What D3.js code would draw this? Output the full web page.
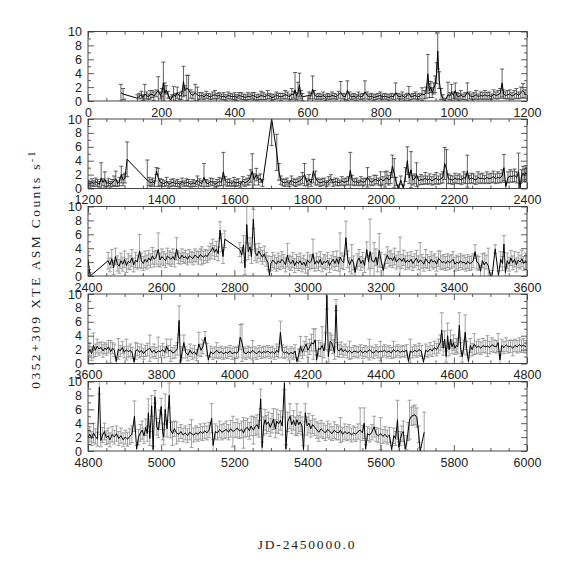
<!DOCTYPE html>
<html>
<head>
<meta charset="utf-8">
<script src="https://cdn.jsdelivr.net/npm/d3@7"></script>
<style>
  body { margin: 0; background: #fff; }
  svg { display: block; }
  .tick text { font-family: "Liberation Sans", sans-serif; font-size: 12.5px; fill: #222; }
  .tick line { stroke: #333; stroke-width: 0.8; }
  .title { font-family: "Liberation Serif", serif; font-size: 13.5px; fill: #222; }
</style>
</head>
<body>
<svg width="574" height="574"></svg>
<script>
// light curve, panel 1 (JD-2450000 = 0..1200)
const p1Days = [
  90,96,135,140,146,150,155,160,165,170,
  175,180,186,192,198,202,206,210,214,219,
  224,229,234,239,244,250,256,261,265,270,
  275,281,287,293,299,305,311,317,323,329,
  335,341,347,353,359,365,371,377,383,389,
  395,401,407,413,419,425,431,437,443,449,
  455,461,467,473,479,485,491,497,503,509,
  515,521,527,533,539,545,551,557,562,566,
  570,574,578,582,586,604,609,614,619,625,
  631,637,643,649,655,661,667,673,679,685,
  691,697,703,709,715,721,727,733,739,745,
  751,757,763,769,775,781,787,793,799,805,
  811,817,823,829,835,841,847,853,859,865,
  871,877,883,889,895,901,907,913,919,924,
  929,933,937,941,945,949,953,956,960,965,
  970,976,984,989,994,999,1004,1009,1014,1019,
  1025,1031,1037,1043,1049,1055,1061,1067,1073,1079,
  1085,1091,1097,1103,1109,1115,1121,1127,1132,1136,
  1141,1147,1153,1159,1165,1171,1177,1183,1189,1195
];
const p1Rates = [
  1.2,1.0,0.4,0.7,0.9,0.5,1.0,0.8,0.6,0.9,
  1.0,0.7,1.1,1.5,0.8,1.2,2.6,1.1,1.6,0.9,
  0.2,0.4,1.0,0.6,1.2,0.7,0.8,2.8,1.5,1.9,
  1.6,1.0,0.8,1.2,0.9,0.7,0.8,0.6,0.9,0.7,
  0.6,0.8,0.9,0.7,0.8,0.6,0.7,0.5,0.8,0.7,
  0.6,0.7,0.5,0.8,0.7,0.6,0.5,0.7,0.6,0.8,
  0.7,0.5,0.6,0.8,0.7,0.6,0.9,0.7,0.5,0.6,
  0.8,0.7,0.6,0.7,0.9,0.8,0.6,1.0,0.9,1.6,
  0.7,1.2,2.3,0.9,0.6,0.8,0.7,1.7,0.9,0.6,
  0.7,0.6,0.8,0.5,0.7,0.6,0.8,0.7,0.6,0.9,
  1.2,0.7,0.6,1.5,0.8,0.6,0.7,0.5,0.8,0.6,
  0.7,1.3,0.8,0.6,0.7,0.5,0.6,0.7,0.8,0.6,
  0.7,0.6,0.5,0.7,0.6,1.2,0.7,0.6,0.8,0.5,
  0.7,1.1,0.6,0.7,0.8,0.6,0.7,1.0,0.9,1.2,
  3.9,1.5,2.0,1.2,1.8,2.4,4.0,7.2,3.0,1.0,
  0.4,0.0,0.9,0.7,1.2,0.8,1.5,0.7,0.6,0.9,
  0.6,0.7,1.3,0.8,0.6,0.7,0.9,0.6,0.8,0.7,
  0.9,0.7,0.8,0.6,1.0,0.8,0.9,1.1,2.6,1.0,
  0.8,0.9,1.0,0.7,0.9,1.1,0.8,1.2,1.5,1.0
];
const p1Errs = [
  1.2,0.8,0.5,0.4,0.5,0.4,1.4,0.5,0.4,0.6,
  0.5,0.6,0.5,2.0,0.5,0.6,3.0,1.5,0.6,0.5,
  0.4,0.5,1.1,0.5,0.8,0.5,0.6,2.2,0.7,1.8,
  2.1,0.6,0.5,1.2,1.1,0.5,0.4,0.4,0.5,0.4,
  0.4,0.5,0.6,0.4,0.4,0.4,0.5,0.4,0.5,0.4,
  0.4,0.5,0.4,0.4,0.5,0.4,0.4,0.5,0.4,0.4,
  0.5,0.4,0.4,0.6,0.5,0.4,0.6,0.4,0.4,0.4,
  0.5,0.4,0.5,0.4,0.6,0.5,0.4,0.8,0.5,2.5,
  0.5,1.5,1.7,0.6,0.5,0.5,0.4,1.9,0.6,0.4,
  0.4,0.4,0.5,0.4,0.4,0.4,0.5,0.4,0.4,0.5,
  1.6,0.4,0.4,1.4,0.5,0.4,0.4,0.4,0.5,0.4,
  0.4,1.6,0.5,0.4,0.4,0.4,0.4,0.4,0.5,0.4,
  0.4,0.4,0.4,0.4,0.4,1.4,0.4,0.4,0.5,0.4,
  0.4,1.0,0.4,0.4,0.5,0.4,0.4,0.9,0.6,0.8,
  2.8,1.0,0.8,0.7,0.8,1.2,1.5,2.6,1.2,0.8,
  0.5,0.4,1.8,0.5,1.2,0.5,1.1,0.5,0.5,0.6,
  0.4,0.5,1.3,0.5,0.4,0.5,0.6,0.4,0.5,0.5,
  0.6,0.5,0.5,0.4,0.6,0.5,0.6,0.7,2.0,0.6,
  0.5,0.6,0.6,0.5,0.6,0.7,0.5,0.8,1.0,0.6
];

// panel 2 (1200..2400)
const p2Days = [
  1201,1206,1211,1216,1221,1226,1231,1236,1241,1246,
  1251,1256,1261,1266,1271,1276,1281,1286,1291,1296,
  1301,1307,1362,1367,1372,1377,1382,1387,1392,1397,
  1403,1409,1415,1421,1427,1433,1439,1445,1451,1457,
  1463,1469,1475,1481,1487,1493,1499,1505,1511,1517,
  1523,1529,1535,1541,1547,1553,1559,1565,1570,1575,
  1581,1587,1593,1599,1605,1611,1617,1623,1629,1635,
  1640,1645,1649,1654,1660,1666,1671,1677,1702,1716,
  1722,1727,1732,1738,1744,1750,1756,1762,1768,1774,
  1780,1786,1792,1798,1804,1810,1816,1822,1828,1834,
  1840,1846,1852,1858,1864,1870,1876,1882,1888,1894,
  1900,1906,1912,1917,1922,1928,1934,1940,1946,1952,
  1958,1964,1970,1976,1982,1988,1994,2000,2006,2012,
  2017,2022,2027,2032,2037,2042,2048,2055,2062,2068,
  2073,2078,2083,2088,2093,2098,2104,2110,2116,2122,
  2128,2134,2140,2146,2152,2158,2164,2170,2175,2180,
  2185,2191,2197,2203,2209,2215,2221,2227,2232,2237,
  2242,2248,2254,2260,2266,2272,2278,2284,2290,2296,
  2302,2308,2314,2320,2326,2332,2337,2342,2348,2354,
  2360,2366,2372,2377,2381,2385,2389,2393,2397,2400
];
const p2Rates = [
  0.8,0.6,0.9,0.7,1.0,0.8,0.6,1.5,0.9,1.3,
  0.7,0.9,0.6,0.8,1.1,1.4,0.7,1.0,2.0,1.2,
  1.5,4.2,1.2,1.0,0.8,1.0,0.7,2.5,1.6,0.9,
  0.8,0.7,1.0,0.6,0.8,0.9,0.7,0.8,0.6,1.0,
  0.7,0.9,0.8,0.6,0.8,0.7,1.2,0.9,0.7,1.6,
  0.8,0.7,1.0,0.9,0.6,0.8,1.0,0.9,2.4,1.1,
  0.8,0.9,0.7,1.0,0.8,0.9,0.6,1.1,0.8,1.0,
  1.2,1.8,2.5,1.3,2.0,1.2,1.5,0.8,10.0,5.2,
  2.4,1.2,0.9,0.8,1.0,0.7,1.2,0.9,0.8,1.0,
  1.1,1.5,2.0,0.9,1.3,0.8,2.5,1.5,1.0,0.8,
  0.9,1.0,0.7,1.1,1.4,0.8,1.0,0.9,0.8,1.1,
  0.9,1.0,1.1,2.6,1.2,0.9,1.0,0.8,1.1,0.9,
  1.0,1.6,1.1,0.9,1.2,1.3,1.0,1.4,1.1,1.3,
  1.6,1.2,1.5,3.2,2.2,1.0,0.0,1.2,0.0,2.0,
  4.0,1.5,2.7,1.2,1.4,2.0,1.1,1.3,1.2,1.5,
  1.2,1.4,1.1,1.3,1.5,1.2,1.4,1.6,3.6,2.8,
  1.4,1.3,1.2,1.5,1.3,1.4,1.2,1.6,1.4,2.5,
  1.3,1.5,1.4,1.2,1.6,1.4,1.5,1.3,1.6,1.4,
  1.5,1.7,1.4,1.6,1.5,1.8,3.0,0.3,1.6,1.8,
  1.7,1.9,1.6,2.4,0.1,1.8,2.2,1.9,2.3,2.0
];
const p2Errs = [
  0.4,0.4,0.5,0.4,0.5,0.5,0.4,2.2,0.5,1.1,
  0.4,0.5,0.4,0.5,0.7,1.1,0.4,0.6,1.2,0.8,
  0.7,2.5,2.9,0.6,0.5,0.5,0.4,0.5,1.3,0.5,
  0.5,0.4,0.6,0.4,0.5,0.5,0.4,0.5,0.4,0.5,
  0.4,0.5,0.5,0.4,0.5,0.4,0.6,0.5,0.4,2.0,
  0.5,0.4,0.5,0.5,0.4,0.5,0.6,0.5,2.8,0.6,
  0.5,0.5,0.4,0.6,0.5,0.5,0.4,0.6,0.5,0.5,
  0.7,0.9,2.5,0.8,0.9,0.7,0.6,0.5,3.8,2.6,
  1.2,0.6,0.5,0.5,0.5,0.4,0.6,0.5,0.5,0.5,
  0.6,0.8,1.6,0.5,0.7,0.5,1.7,1.0,0.5,0.5,
  0.5,0.5,0.4,0.6,0.6,0.5,0.5,0.5,0.4,0.6,
  0.5,0.5,0.6,2.6,0.7,0.5,0.5,0.4,0.6,0.5,
  0.5,1.4,0.6,0.5,0.7,0.6,0.5,1.0,0.6,1.1,
  0.9,0.7,0.8,1.6,2.1,0.6,0.5,0.6,0.5,1.0,
  2.0,0.8,2.6,0.7,0.7,1.7,0.6,0.7,0.6,0.8,
  0.6,0.7,0.6,0.7,0.8,0.6,0.7,0.8,2.3,2.8,
  0.7,0.6,0.6,0.7,0.6,0.7,0.6,0.8,0.7,2.3,
  0.6,0.7,0.7,0.6,0.8,0.7,0.7,0.6,0.8,0.7,
  0.7,0.8,0.7,0.8,0.7,0.9,1.9,0.6,0.8,0.9,
  0.8,0.9,0.8,2.7,0.6,0.9,1.0,0.9,1.0,0.9
];

// panel 3 (2400..3600)
const p3Days = [
  2400,2406,2455,2460,2465,2470,2475,2480,2485,2490,
  2495,2500,2505,2510,2515,2520,2525,2530,2535,2541,
  2546,2551,2556,2561,2566,2571,2576,2581,2586,2592,
  2597,2602,2607,2612,2617,2622,2627,2632,2637,2642,
  2647,2652,2657,2662,2667,2672,2677,2682,2687,2692,
  2697,2702,2707,2711,2716,2721,2726,2731,2736,2741,
  2746,2751,2756,2761,2765,2769,2774,2815,2820,2825,
  2829,2834,2838,2843,2847,2852,2857,2862,2867,2872,
  2877,2882,2887,2892,2896,2900,2905,2910,2915,2920,
  2925,2930,2935,2940,2945,2950,2955,2960,2965,2970,
  2975,2980,2985,2990,2995,3000,3005,3010,3015,3020,
  3025,3030,3035,3040,3045,3050,3055,3060,3065,3070,
  3075,3080,3085,3089,3094,3099,3105,3110,3115,3121,
  3126,3130,3136,3141,3146,3151,3156,3162,3167,3171,
  3176,3182,3187,3191,3196,3201,3207,3212,3218,3223,
  3228,3233,3238,3243,3248,3253,3258,3263,3268,3273,
  3278,3283,3288,3293,3298,3303,3308,3313,3318,3323,
  3328,3333,3338,3343,3348,3353,3358,3363,3368,3373,
  3378,3383,3388,3393,3398,3403,3408,3413,3418,3423,
  3428,3433,3438,3443,3448,3453,3458,3463,3468,3473,
  3478,3483,3488,3494,3500,3505,3513,3522,3528,3533,
  3537,3541,3546,3551,3556,3561,3566,3571,3576,3581,
  3586,3591,3596,3600
];
const p3Rates = [
  2.4,0.0,2.2,1.6,2.5,1.2,2.8,1.8,1.4,2.2,
  1.7,2.4,1.5,2.1,1.9,2.6,1.6,2.3,2.0,3.6,
  2.2,1.8,2.4,2.0,2.6,2.2,2.9,2.4,2.7,3.8,
  2.3,2.8,2.5,2.2,2.9,2.6,2.4,2.8,2.3,3.9,
  2.7,2.5,3.0,2.6,2.8,2.4,2.9,2.7,2.5,3.0,
  2.8,2.6,3.1,2.9,2.7,3.0,2.8,3.3,3.6,4.1,
  3.4,3.9,3.2,6.6,4.8,2.8,5.3,3.8,3.0,4.5,
  1.2,7.4,3.5,4.2,2.8,8.2,3.4,2.9,3.6,3.1,
  2.7,3.2,2.4,1.9,0.1,1.8,2.3,2.0,1.7,2.2,
  1.9,2.4,2.1,1.6,3.0,2.0,1.8,2.3,1.5,2.1,
  1.8,2.2,1.6,2.0,1.4,2.3,1.9,2.1,3.2,1.7,
  2.2,1.8,2.4,1.6,2.1,1.9,2.3,1.5,2.0,2.4,
  1.8,2.5,1.7,2.7,2.2,1.9,5.5,2.4,1.6,2.4,
  1.9,0.5,2.1,2.6,1.8,2.3,1.5,3.8,2.0,3.5,
  2.2,2.0,2.7,1.6,3.7,2.3,0.8,2.1,3.0,2.4,
  2.6,2.2,2.8,2.0,2.4,2.5,2.1,2.6,1.9,2.3,
  2.0,2.4,1.8,2.2,2.6,1.9,2.3,2.1,1.7,2.5,
  2.1,1.8,2.4,2.0,2.2,1.7,2.5,2.3,1.9,2.1,
  1.8,2.2,1.9,2.1,2.4,1.7,2.0,1.8,2.2,1.9,
  2.0,1.7,2.1,1.8,1.9,2.2,3.5,2.0,1.8,0.7,
  2.2,1.6,2.0,1.5,0.0,0.2,3.9,0.1,2.4,1.8,
  4.6,0.5,2.2,1.7,2.6,1.9,2.4,1.6,2.3,2.0,
  2.5,1.8,2.2,1.9
];
const p3Errs = [
  1.1,0.5,1.2,1.0,1.3,1.0,1.2,1.1,1.0,1.1,
  1.0,1.2,1.0,1.1,1.0,1.2,1.0,1.1,1.0,2.4,
  1.1,1.0,1.2,1.0,1.1,1.0,1.2,1.1,1.0,2.4,
  1.0,1.1,1.0,1.0,1.1,1.0,1.0,1.1,1.0,1.6,
  0.9,0.8,0.9,0.8,0.9,0.8,0.9,0.8,0.9,0.9,
  0.8,0.9,0.8,1.3,0.9,0.8,0.9,1.0,1.1,1.2,
  1.0,1.1,1.0,1.2,1.3,1.0,1.2,1.0,1.1,1.3,
  1.0,2.6,1.1,1.3,1.0,1.4,1.2,1.0,1.1,1.0,
  1.0,1.1,1.0,1.0,0.6,1.0,1.1,1.0,1.0,1.1,
  1.0,1.1,1.0,1.0,1.7,1.0,1.0,1.1,1.0,1.0,
  1.0,1.1,1.0,1.0,1.0,1.1,1.0,1.0,2.1,1.0,
  1.1,1.0,1.1,1.0,1.0,1.0,1.1,1.0,1.0,1.1,
  1.0,1.1,1.0,3.5,1.1,1.0,2.4,1.2,1.0,2.1,
  1.0,0.8,1.1,1.2,1.0,1.1,1.0,1.1,1.0,4.7,
  1.1,2.8,1.2,1.0,2.4,1.1,0.9,1.0,1.2,1.1,
  1.1,1.0,1.2,1.0,1.1,3.1,1.0,1.1,1.0,1.1,
  1.0,1.1,1.0,1.0,1.1,1.0,2.5,1.0,1.0,1.3,
  1.0,1.0,1.1,1.0,1.0,1.0,1.1,1.3,1.0,1.0,
  1.0,1.0,1.0,1.0,1.1,1.0,1.0,1.0,1.0,1.0,
  1.0,1.0,1.0,1.0,1.0,1.0,1.0,1.0,1.0,0.8,
  1.0,1.7,1.0,2.5,0.5,0.6,0.6,0.6,1.1,1.0,
  1.2,0.8,1.1,1.0,1.1,1.0,1.1,1.0,1.1,1.0,
  1.2,1.0,1.1,1.0
];

// panel 4 (3600..4800)
const p4Days = [
  3600,3605,3610,3615,3620,3625,3630,3636,3641,3646,
  3651,3656,3662,3667,3672,3677,3683,3688,3694,3699,
  3705,3710,3716,3721,3726,3730,3735,3741,3746,3752,
  3757,3763,3769,3775,3781,3786,3792,3798,3804,3810,
  3815,3820,3826,3832,3838,3844,3849,3853,3857,3862,
  3867,3873,3879,3885,3891,3897,3903,3909,3914,3920,
  3925,3929,3935,3941,3947,3952,3958,3964,3970,3976,
  3982,3988,3994,4000,4006,4011,4016,4021,4026,4032,
  4038,4044,4050,4056,4062,4068,4074,4080,4086,4092,
  4098,4104,4110,4116,4121,4126,4131,4137,4143,4149,
  4155,4161,4166,4171,4176,4181,4186,4191,4196,4201,
  4206,4211,4216,4221,4225,4230,4235,4240,4245,4249,
  4253,4257,4262,4266,4270,4274,4278,4282,4287,4292,
  4297,4303,4309,4315,4321,4327,4333,4339,4345,4351,
  4357,4363,4369,4375,4381,4387,4393,4399,4405,4411,
  4417,4423,4429,4435,4441,4447,4453,4459,4465,4471,
  4476,4481,4487,4493,4499,4505,4511,4517,4523,4529,
  4535,4541,4547,4553,4558,4563,4567,4571,4575,4579,
  4583,4587,4591,4595,4599,4603,4607,4611,4615,4619,
  4623,4627,4631,4635,4640,4645,4650,4656,4662,4668,
  4674,4680,4686,4692,4698,4704,4710,4716,4721,4726,
  4731,4737,4743,4749,4755,4761,4767,4773,4779,4785,
  4791,4797
];
const p4Rates = [
  1.5,2.0,1.4,2.6,1.9,2.5,2.1,2.3,1.8,2.2,
  2.0,2.4,1.7,2.2,1.9,0.3,2.1,1.8,2.3,1.6,
  2.0,1.7,1.9,1.5,0.2,1.8,2.0,1.6,1.9,1.4,
  1.8,2.0,2.2,1.6,1.9,1.5,1.8,1.7,2.0,1.6,
  2.5,1.8,1.9,1.5,1.7,2.1,6.2,0.0,1.6,3.0,
  1.6,1.2,1.9,1.4,1.7,1.2,2.8,1.9,2.4,3.8,
  2.0,0.5,1.7,1.4,1.6,1.9,1.5,1.7,1.4,1.6,
  1.5,1.8,1.4,1.6,1.5,1.7,3.8,3.0,1.6,1.4,
  1.7,1.5,1.9,1.6,1.4,1.8,1.5,1.7,1.6,1.8,
  1.5,1.7,1.4,1.9,1.6,4.5,1.8,1.5,1.7,1.3,
  1.6,1.4,1.8,0.3,1.2,2.5,1.6,2.2,2.8,1.9,
  2.4,3.0,2.8,3.4,0.5,2.2,2.0,2.6,1.8,3.2,
  9.8,1.0,3.2,3.0,2.4,1.5,8.4,2.0,1.8,2.2,
  1.7,2.0,1.6,1.9,1.5,1.8,1.7,1.6,1.9,1.5,
  1.8,1.6,2.0,1.7,1.5,1.9,1.6,1.8,1.7,1.9,
  1.6,1.8,1.5,2.0,1.7,1.9,1.6,1.8,1.7,1.9,
  0.3,1.8,1.6,1.9,1.7,2.0,1.8,0.2,1.9,1.7,
  2.1,1.8,2.3,2.0,2.5,3.0,4.8,2.2,3.5,1.0,
  4.0,2.0,3.5,2.4,3.0,2.2,2.6,2.4,5.5,2.0,
  1.0,2.4,4.5,2.2,0.3,2.6,2.0,2.8,2.3,2.5,
  2.2,2.6,2.4,2.5,2.3,2.7,2.5,2.4,3.0,0.5,
  2.6,2.3,2.7,2.4,2.5,2.2,2.6,2.4,2.7,2.5,
  2.6,2.4
];
const p4Errs = [
  1.0,0.9,1.0,1.8,0.9,1.0,0.9,0.8,0.9,0.8,
  0.8,0.9,1.6,0.8,0.9,0.5,1.5,0.8,0.9,0.8,
  1.5,0.8,0.9,0.8,0.5,1.2,0.9,0.8,0.9,0.8,
  0.8,0.9,1.9,0.8,0.9,0.8,2.0,0.8,0.9,0.8,
  1.0,0.8,1.6,0.8,0.9,0.9,2.1,0.5,0.8,1.1,
  0.8,0.8,0.9,0.8,0.9,0.8,1.7,0.9,1.0,0.8,
  0.9,0.6,0.8,0.8,0.8,1.1,0.8,0.8,0.8,0.8,
  0.8,0.8,0.8,0.8,0.8,0.8,1.8,2.7,0.8,0.8,
  0.8,0.8,1.4,0.8,0.8,0.8,0.8,0.8,0.8,0.8,
  0.8,0.8,0.8,0.9,0.8,1.6,0.9,0.8,0.8,0.8,
  0.8,0.8,0.9,0.5,0.9,1.4,0.9,1.0,1.1,1.0,
  1.1,1.2,2.2,1.6,0.7,1.1,1.0,2.7,1.0,1.2,
  2.0,0.8,1.2,1.1,1.0,0.9,0.8,1.0,0.9,0.9,
  0.8,0.8,0.8,1.3,0.8,0.8,0.8,0.8,0.8,0.8,
  0.8,0.8,1.5,0.8,0.8,0.8,0.8,1.4,0.8,0.8,
  0.8,0.8,0.8,1.2,0.8,0.8,0.8,0.8,0.8,0.8,
  0.5,1.7,0.8,0.8,0.8,0.9,0.8,0.5,0.9,0.8,
  0.9,0.8,0.9,0.9,1.0,1.1,2.5,1.0,1.2,0.8,
  1.8,0.9,1.3,1.0,1.1,0.9,1.0,1.0,1.8,1.0,
  0.8,1.0,2.5,1.0,0.6,1.0,0.9,1.5,0.9,1.0,
  0.9,1.0,0.9,1.5,0.9,1.0,0.9,0.9,1.3,0.7,
  0.9,0.9,1.0,0.9,0.9,1.1,0.9,0.9,1.0,0.9,
  1.0,0.9
];

// panel 5 (4800..6000)
const p5Days = [
  4800,4805,4810,4815,4820,4826,4831,4835,4840,4845,
  4850,4855,4860,4866,4872,4878,4884,4890,4896,4902,
  4908,4914,4920,4927,4933,4938,4943,4948,4953,4958,
  4962,4965,4969,4974,4978,4983,4988,4992,4996,5000,
  5004,5007,5011,5016,5022,5026,5031,5036,5042,5048,
  5054,5060,5066,5072,5078,5083,5089,5095,5101,5107,
  5113,5119,5125,5131,5138,5142,5148,5154,5160,5166,
  5172,5178,5184,5190,5196,5202,5208,5214,5220,5225,
  5230,5236,5241,5246,5252,5257,5262,5267,5272,5276,
  5280,5284,5288,5293,5298,5303,5307,5312,5316,5321,
  5326,5331,5337,5341,5346,5352,5357,5362,5367,5371,
  5376,5380,5385,5389,5394,5399,5404,5409,5414,5420,
  5426,5431,5437,5443,5449,5455,5461,5467,5473,5479,
  5485,5490,5496,5502,5508,5514,5520,5526,5532,5538,
  5544,5550,5555,5559,5564,5570,5576,5582,5588,5594,
  5600,5606,5612,5618,5624,5630,5636,5641,5646,5650,
  5654,5658,5662,5667,5671,5675,5679,5684,5689,5694,
  5699,5704,5708,5719
];
const p5Rates = [
  2.0,2.4,1.8,2.6,2.1,1.7,9.2,1.5,2.3,2.8,
  1.9,2.2,1.6,2.4,2.0,2.5,1.8,2.2,1.6,2.0,
  1.7,2.1,2.4,5.0,0.3,2.0,2.6,3.0,2.2,3.4,
  2.5,5.5,1.8,6.5,0.2,7.8,3.5,3.0,4.5,6.4,
  2.8,2.0,6.0,3.2,8.0,3.0,2.5,3.2,2.6,2.4,
  2.8,2.3,2.6,2.2,2.7,2.5,2.3,2.6,2.4,2.8,
  2.5,2.9,2.6,3.0,4.7,0.8,2.8,2.6,3.1,2.7,
  2.9,3.1,2.7,3.2,2.8,3.0,3.3,2.9,3.1,2.6,
  3.2,3.4,2.9,3.6,3.0,3.5,3.8,3.2,7.5,0.5,
  3.6,4.5,3.8,4.2,3.4,4.0,4.6,3.2,4.3,3.9,
  4.4,3.6,9.8,0.3,4.2,5.0,3.8,4.4,3.6,4.5,
  3.8,4.2,3.6,0.2,5.5,3.6,4.0,3.2,3.8,3.4,
  3.0,2.7,3.2,2.9,2.6,3.1,2.8,2.5,3.0,2.7,
  2.6,3.0,2.4,2.8,2.5,2.7,2.3,2.6,2.4,2.8,
  3.0,2.6,4.0,0.3,2.5,2.3,2.7,3.5,2.4,2.2,
  2.5,2.1,2.4,2.0,2.3,0.2,2.2,1.8,4.5,0.5,
  1.8,2.5,2.8,0.3,1.2,2.8,4.5,5.0,5.1,5.2,
  4.8,2.4,0.0,2.7
];
const p5Errs = [
  1.0,1.1,1.0,1.4,1.1,1.0,1.0,0.9,1.1,1.2,
  1.0,1.1,1.0,1.1,1.0,1.1,1.0,1.1,1.0,1.0,
  1.0,1.1,1.2,2.2,0.5,1.1,1.2,1.3,1.1,1.2,
  1.1,2.0,1.0,1.5,0.5,0.9,1.2,1.1,1.4,1.2,
  1.2,1.1,2.2,1.2,1.8,1.1,1.7,1.1,1.6,1.0,
  1.0,1.0,1.0,1.0,1.1,2.0,1.0,1.0,1.0,1.1,
  1.0,1.1,1.0,1.1,2.1,0.9,1.1,1.0,1.2,1.1,
  1.1,1.2,1.1,1.2,2.2,1.1,1.3,1.1,1.2,2.2,
  1.2,1.3,1.2,1.4,2.0,1.3,1.4,1.2,1.4,0.8,
  1.3,1.5,1.3,1.4,1.3,1.4,1.5,1.3,1.7,1.4,
  1.4,1.3,1.0,0.6,1.4,1.8,1.3,1.4,1.3,2.3,
  1.3,1.4,1.3,0.6,1.3,1.3,1.4,1.2,1.3,1.2,
  1.2,1.3,1.2,1.1,1.1,1.2,1.1,1.0,1.2,1.1,
  1.0,1.8,1.0,1.1,1.0,1.1,1.0,1.0,1.0,1.1,
  3.2,1.1,2.2,0.6,1.0,1.0,1.1,1.5,1.0,1.0,
  2.3,1.0,1.1,1.0,1.1,0.6,1.1,1.0,2.8,0.8,
  1.0,1.1,1.5,0.7,1.0,1.3,2.8,1.3,1.4,1.4,
  1.4,1.2,0.5,2.9
];

const panelStarts = [0, 1200, 2400, 3600, 4800];
const yTicks = [0, 2, 4, 6, 8, 10];

const svg = d3.select('svg');

const margin = {left: 88, right: 47, top: 31.5};
const innerWidth = 574 - margin.left - margin.right;
const panelHeight = 69.5;
const panelStep = 87.5;

const panels = [
  {days: p1Days, rates: p1Rates, errs: p1Errs, bar: '#3a3a3a'},
  {days: p2Days, rates: p2Rates, errs: p2Errs, bar: '#3a3a3a'},
  {days: p3Days, rates: p3Rates, errs: p3Errs, bar: '#8c8c8c'},
  {days: p4Days, rates: p4Rates, errs: p4Errs, bar: '#8c8c8c'},
  {days: p5Days, rates: p5Rates, errs: p5Errs, bar: '#8c8c8c'}
];

const yScale = d3.scaleLinear().domain([0, 10]).range([panelHeight, 0]);

panels.forEach((p, i) => {
  const start = panelStarts[i];
  const xScale = d3.scaleLinear().domain([start, start + 1200]).range([0, innerWidth]);
  const g = svg.append('g')
    .attr('transform', `translate(${margin.left},${margin.top + i * panelStep})`);

  g.append('clipPath').attr('id', 'clip' + i)
    .append('rect').attr('width', innerWidth).attr('height', panelHeight);

  const plot = g.append('g').attr('clip-path', `url(#clip${i})`);
  const pts = p.days.map((d, k) => ({t: d, r: p.rates[k], e: p.errs[k]}));

  // error bars
  const bars = plot.append('g').attr('stroke', p.bar).attr('stroke-width', 0.8);
  bars.selectAll('line.err').data(pts).enter().append('line')
    .attr('class', 'err')
    .attr('x1', d => xScale(d.t)).attr('x2', d => xScale(d.t))
    .attr('y1', d => yScale(d.r - d.e)).attr('y2', d => yScale(d.r + d.e));
  bars.selectAll('line.capTop').data(pts).enter().append('line')
    .attr('class', 'capTop')
    .attr('x1', d => xScale(d.t) - 2).attr('x2', d => xScale(d.t) + 2)
    .attr('y1', d => yScale(d.r + d.e)).attr('y2', d => yScale(d.r + d.e));
  bars.selectAll('line.capBot').data(pts).enter().append('line')
    .attr('class', 'capBot')
    .attr('x1', d => xScale(d.t) - 2).attr('x2', d => xScale(d.t) + 2)
    .attr('y1', d => yScale(d.r - d.e)).attr('y2', d => yScale(d.r - d.e));

  // light curve
  const line = d3.line().x(d => xScale(d.t)).y(d => yScale(d.r));
  plot.append('path').datum(pts)
    .attr('fill', 'none').attr('stroke', '#000').attr('stroke-width', 1)
    .attr('d', line);

  // axes, ticks pointing inward
  const major = d3.range(start, start + 1201, 200);
  const minor = d3.range(start, start + 1201, 50).filter(v => (v - start) % 200 !== 0);

  const xAxisG = g.append('g').attr('transform', `translate(0,${panelHeight})`)
    .call(d3.axisBottom(xScale).tickValues(major).tickSize(-6).tickSizeOuter(0).tickPadding(7).tickFormat(d3.format('d')));
  g.append('g').attr('transform', `translate(0,${panelHeight})`)
    .call(d3.axisBottom(xScale).tickValues(minor).tickSize(-3).tickSizeOuter(0).tickFormat(''));
  g.append('g')
    .call(d3.axisTop(xScale).tickValues(major).tickSize(-6).tickSizeOuter(0).tickFormat(''));
  g.append('g')
    .call(d3.axisTop(xScale).tickValues(minor).tickSize(-3).tickSizeOuter(0).tickFormat(''));

  g.append('g')
    .call(d3.axisLeft(yScale).tickValues(yTicks).tickSize(-6).tickSizeOuter(0).tickPadding(6));
  g.append('g')
    .call(d3.axisLeft(yScale).tickValues([1, 3, 5, 7, 9]).tickSize(-3).tickSizeOuter(0).tickFormat(''));
  g.append('g').attr('transform', `translate(${innerWidth},0)`)
    .call(d3.axisRight(yScale).tickValues(yTicks).tickSize(-6).tickSizeOuter(0).tickFormat(''));
  g.append('g').attr('transform', `translate(${innerWidth},0)`)
    .call(d3.axisRight(yScale).tickValues([1, 3, 5, 7, 9]).tickSize(-3).tickSizeOuter(0).tickFormat(''));

  g.selectAll('.domain').remove();

  g.append('rect')
    .attr('width', innerWidth).attr('height', panelHeight)
    .attr('fill', 'none').attr('stroke', '#333').attr('stroke-width', 0.9);
});

// axis titles
svg.append('text')
  .attr('class', 'title')
  .attr('transform', 'translate(40,269) rotate(-90)')
  .attr('text-anchor', 'middle')
  .attr('letter-spacing', 2.4)
  .text('0352+309 XTE ASM Counts s')
  .append('tspan').attr('dy', -5).attr('font-size', 9.5).text('-1');

svg.append('text')
  .attr('class', 'title')
  .attr('x', 307).attr('y', 549)
  .attr('text-anchor', 'middle')
  .attr('letter-spacing', 1.8)
  .text('JD-2450000.0');
</script>
</body>
</html>
